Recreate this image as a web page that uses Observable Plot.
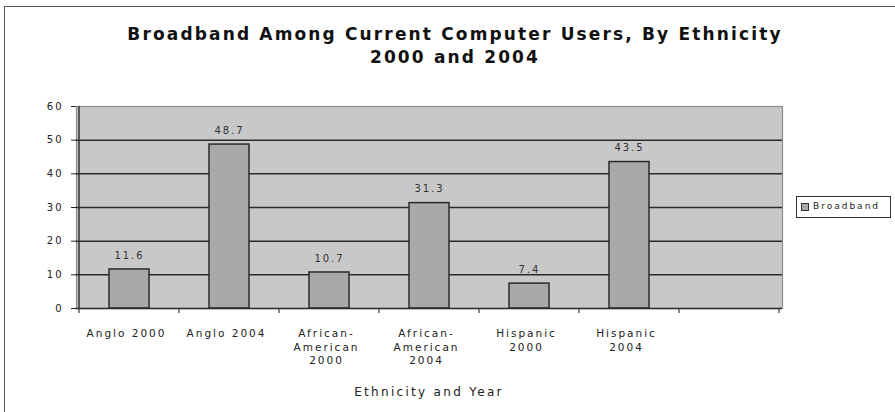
<!DOCTYPE html>
<html>
<head>
<meta charset="utf-8">
<script src="https://cdn.jsdelivr.net/npm/d3@7"></script>
<script src="https://cdn.jsdelivr.net/npm/@observablehq/plot@0.6"></script>
<style>
  html, body { margin: 0; padding: 0; background: #fff; overflow: hidden; }
  #wrap { position: relative; width: 895px; height: 412px; font-family: "DejaVu Sans", sans-serif; }
  #frame { position: absolute; left: 4px; top: 6px; width: 900px; height: 420px; border: 1px solid #555; box-sizing: border-box; }
  #title { position: absolute; left: 0; top: 23px; width: 910px; text-align: center; font-weight: bold; font-size: 17px; line-height: 23px; color: #111; letter-spacing: 2.15px; }
  #xtitle { position: absolute; left: 76px; width: 706px; top: 385px; text-align: center; font-size: 12px; color: #222; letter-spacing: 2.3px; }
  #legend { position: absolute; left: 796px; top: 196px; width: 95px; height: 22px; border: 1px solid #333; box-sizing: border-box; background: #fff; font-size: 9px; color: #222; letter-spacing: 2px; }
  #legend .sw { position: absolute; left: 4px; top: 6px; width: 8px; height: 8px; border: 1px solid #333; box-sizing: border-box; background: #a9a9ab; }
  #legend .lb { position: absolute; left: 16px; top: 4px; }
  #chart { position: absolute; left: 0; top: 0; }
</style>
</head>
<body>
<div id="wrap">
  <div id="frame"></div>
  <div id="chart"></div>
  <div id="title">Broadband Among Current Computer Users, By Ethnicity<br>2000 and 2004</div>
  <div id="xtitle">Ethnicity and Year</div>
  <div id="legend"><div class="sw"></div><div class="lb">Broadband</div></div>
</div>
<script>
const categories = ["Anglo 2000", "Anglo 2004", "African-American 2000", "African-American 2004", "Hispanic 2000", "Hispanic 2004", ""];
const tickLabels = ["Anglo 2000", "Anglo 2004", "African-\nAmerican\n2000", "African-\nAmerican\n2004", "Hispanic\n2000", "Hispanic\n2004", ""];
const broadband = [11.6, 48.7, 10.7, 31.3, 7.4, 43.5];
const yTicks = [0, 10, 20, 30, 40, 50, 60];
const gridValues = [10, 20, 30, 40, 50];

const data = broadband.map((v, i) => ({cat: categories[i], value: v}));
const labelOf = new Map(categories.map((c, i) => [c, tickLabels[i]]));

// boundary ticks and left axis line, derived from the band scale
function boundaryTicks(index, scales, values, dims) {
  const x = scales.x, y = scales.y;
  const dom = x.domain();
  const step = x(dom[1]) - x(dom[0]);
  const bw = typeof x.bandwidth === "function" ? x.bandwidth() : step * 0.4;
  const gap = (step - bw) / 2;
  const y0 = y(0);
  const g = d3.create("svg:g");
  const xs = dom.map(c => x(c) - gap);
  xs.push(x(dom[dom.length - 1]) + bw + gap);
  for (const px of xs) {
    g.append("line").attr("x1", px).attr("x2", px).attr("y1", y0).attr("y2", y0 + 5)
      .attr("stroke", "#333").attr("stroke-width", 1.2);
  }
  g.append("line").attr("x1", xs[0]).attr("x2", xs[0])
    .attr("y1", y(yTicks[yTicks.length - 1])).attr("y2", y0)
    .attr("stroke", "#333").attr("stroke-width", 1.5);
  return g.node();
}

const plot = Plot.plot({
  width: 895,
  height: 412,
  marginLeft: 76,
  marginRight: 113,
  marginTop: 106,
  marginBottom: 104,
  style: {fontFamily: "DejaVu Sans, sans-serif", fontSize: "10px", color: "#222", background: "transparent", letterSpacing: "2px"},
  x: {domain: categories, paddingInner: 0.6, paddingOuter: 0.3},
  y: {domain: [0, 60]},
  marks: [
    Plot.frame({fill: "#c8c8c8", stroke: "#8c8c8c", strokeWidth: 1.2}),
    Plot.ruleY(gridValues, {stroke: "#2a2a2a", strokeWidth: 1.5}),
    Plot.barY(data, {x: "cat", y: "value", fill: "#a9a9ab", stroke: "#2a2a2a", strokeWidth: 1.5}),
    Plot.ruleY([0], {stroke: "#2a2a2a", strokeWidth: 1.5}),
    boundaryTicks,
    Plot.text(data, {x: "cat", y: "value", text: d => d.value.toFixed(1), dy: -14, fill: "#333", fontSize: 10}),
    Plot.axisY({ticks: yTicks, tickSize: 5, tickPadding: 8, label: null, fontSize: 10}),
    Plot.axisX({tickSize: 0, tickPadding: 19, dx: -3, label: null, tickFormat: d => labelOf.get(d), lineHeight: 1.3, fontSize: 10.5})
  ]
});
document.getElementById("chart").appendChild(plot);
</script>
</body>
</html>
